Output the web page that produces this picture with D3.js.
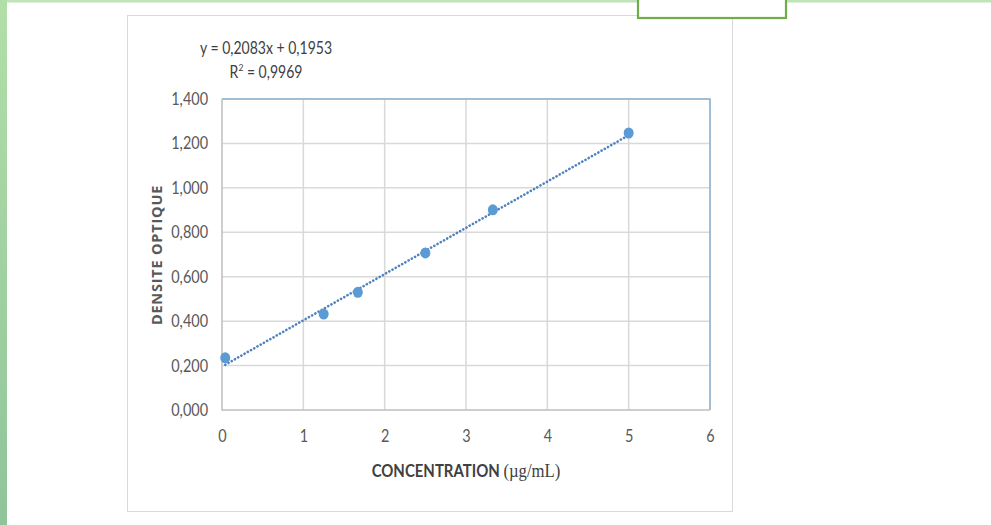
<!DOCTYPE html>
<html><head><meta charset="utf-8">
<script src="https://cdn.jsdelivr.net/npm/d3@7"></script>
<style>
html,body{margin:0;padding:0;background:#fff;}
svg{display:block;}
</style></head>
<body>
<svg id="c" width="991" height="525"></svg>
<script>
const concentrations = [0.04, 1.25, 1.67, 2.5, 3.33, 5];
const densities = [0.235, 0.432, 0.530, 0.707, 0.901, 1.247];
const xTicks = [0, 1, 2, 3, 4, 5, 6];
const yTicks = [0, 0.2, 0.4, 0.6, 0.8, 1.0, 1.2, 1.4];
const slope = 0.2083, intercept = 0.1953;
const equationText = "y = 0,2083x + 0,1953";
const r2Value = "0,9969";
const xTitle = "CONCENTRATION";
const xUnit = "(µg/mL)";
const yTitle = "DENSITE OPTIQUE";

const svg = d3.select("#c");
const defs = svg.append("defs");
const gl = defs.append("linearGradient").attr("id","gl").attr("x1",0).attr("y1",0).attr("x2",0).attr("y2",1);
gl.append("stop").attr("offset","0").attr("stop-color","#b2dfa8");
gl.append("stop").attr("offset","1").attr("stop-color","#8fc49a");

svg.append("rect").attr("x",0).attr("y",0).attr("width",991).attr("height",2.5).attr("fill","#bfe4b8");
svg.append("rect").attr("x",0).attr("y",0).attr("width",7).attr("height",525).attr("fill","url(#gl)");
svg.append("rect").attr("x",127.5).attr("y",15.5).attr("width",605).attr("height",496)
  .attr("fill","#fff").attr("stroke","#d9d9d9").attr("stroke-width",1);
svg.append("rect").attr("x",638).attr("y",-4).attr("width",148).attr("height",22)
  .attr("fill","#fff").attr("stroke","#70ad47").attr("stroke-width",2.2);

const font = "Lato,'Open Sans',sans-serif";
const x = d3.scaleLinear().domain([0,6]).range([222,710]);
const y = d3.scaleLinear().domain([0,1.4]).range([410,99]);

const g = svg.append("g");
g.selectAll(".gy").data(yTicks.slice(1)).join("line")
  .attr("x1",x(0)).attr("x2",x(6)).attr("y1",d=>y(d)).attr("y2",d=>y(d))
  .attr("stroke","#d9d9d9").attr("stroke-width",1.5);
g.selectAll(".gx").data(xTicks.slice(1)).join("line")
  .attr("y1",y(0)).attr("y2",y(1.4)).attr("x1",d=>x(d)).attr("x2",d=>x(d))
  .attr("stroke","#d9d9d9").attr("stroke-width",1.5);
svg.append("path").attr("d",`M${x(0)},${y(1.4)}H${x(6)}V${y(0)}`)
  .attr("fill","none").attr("stroke","#8db3cf").attr("stroke-width",1.5);
svg.append("path").attr("d",`M${x(0)},${y(1.4)}V${y(0)}H${x(6)}`)
  .attr("fill","none").attr("stroke","#bfbfbf").attr("stroke-width",1.5);

const fmt = d => d3.format(".3f")(d).replace(".",",");
const sx = 0.85;
const yAxis = svg.append("g").attr("transform",`translate(${x(0)},0)`)
  .call(d3.axisLeft(y).tickValues(yTicks).tickFormat(fmt).tickSize(0).tickPadding(14));
const xAxis = svg.append("g").attr("transform",`translate(0,${y(0)})`)
  .call(d3.axisBottom(x).tickValues(xTicks).tickFormat(d3.format("d")).tickSize(0).tickPadding(20));
[yAxis,xAxis].forEach(a=>{
  a.attr("font-family",null).attr("font-size",null);
  a.select(".domain").remove();
  a.selectAll("text").attr("fill","#595959").attr("font-family",font).attr("font-size",17)
    .attr("transform",`scale(${sx},1)`);
});
yAxis.selectAll("text").attr("x",-14/sx);

const trend = [d3.min(concentrations), d3.max(concentrations)].map(c=>[c, slope*c+intercept]);
svg.append("path").datum(trend)
  .attr("d", d3.line().x(d=>x(d[0])).y(d=>y(d[1])))
  .attr("stroke","#4f81bd").attr("stroke-width",2.6).attr("stroke-dasharray","0.1,3.6")
  .attr("stroke-linecap","round").attr("fill","none");

svg.selectAll(".pt").data(concentrations.map((c,i)=>[c,densities[i]])).join("ellipse")
  .attr("cx",d=>x(d[0])).attr("cy",d=>y(d[1])).attr("rx",5).attr("ry",5.5)
  .attr("fill","#5b9bd5");

const eq = svg.append("g").attr("transform","translate(266,0) scale(0.85,1)");
eq.append("text").attr("x",0).attr("y",54).attr("text-anchor","middle")
  .attr("fill","#404040").attr("font-family",font).attr("font-size",16.5).text(equationText);
const r2 = eq.append("text").attr("x",0).attr("y",78).attr("text-anchor","middle")
  .attr("fill","#404040").attr("font-family",font).attr("font-size",16.5);
r2.append("tspan").text("R");
r2.append("tspan").attr("dy",-7).attr("font-size",10).text("2");
r2.append("tspan").attr("dy",7).text(" = " + r2Value);

const xt = svg.append("g").attr("transform","translate(466,0) scale(0.88,1)")
  .append("text").attr("x",0).attr("y",477).attr("text-anchor","middle")
  .attr("fill","#404040").attr("font-family",font).attr("font-size",17).attr("font-weight","bold");
xt.append("tspan").text(xTitle + " ");
xt.append("tspan").attr("font-family","'Liberation Serif','Times New Roman',serif").attr("font-weight","normal").attr("font-size",19).text(xUnit);

svg.append("text").attr("transform","translate(162,255) rotate(-90)").attr("text-anchor","middle")
  .attr("fill","#595959").attr("font-family","'Open Sans','DejaVu Sans',sans-serif").attr("font-size",14.5).attr("font-weight","bold")
  .attr("letter-spacing",0.8).text(yTitle);
</script>
</body></html>
